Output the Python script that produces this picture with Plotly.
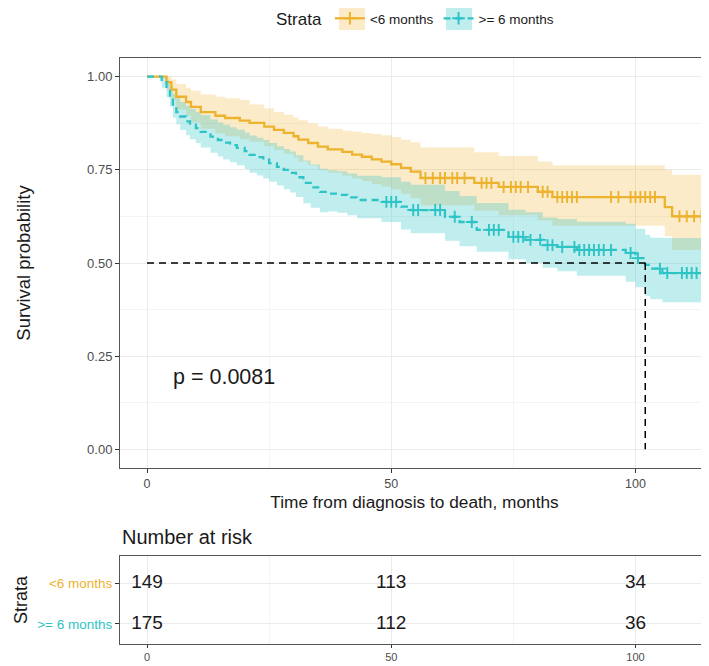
import numpy as np
import plotly.graph_objects as go

# ---------------- data ----------------
strata_labels = ["<6 months", ">= 6 months"]

# Kaplan-Meier estimate, "<6 months"
t_lt6 = [0, 4, 5, 6, 8, 9, 11, 14, 16, 19, 21, 24, 26, 28, 30, 31, 33, 35, 37, 40,
         42, 44, 46, 48, 50, 52, 54, 56, 67, 72, 80, 83, 106, 107.5]
s_lt6 = [1.0, 0.985, 0.965, 0.946, 0.932, 0.919, 0.905, 0.895, 0.889, 0.882,
         0.876, 0.866, 0.857, 0.849, 0.84, 0.831, 0.822, 0.812, 0.805, 0.798,
         0.791, 0.785, 0.778, 0.772, 0.765, 0.755, 0.745, 0.728, 0.715, 0.704,
         0.691, 0.677, 0.65, 0.625]
hi_lt6 = [1.0, 1.0, 0.992, 0.98, 0.97, 0.962, 0.952, 0.946, 0.942, 0.937,
          0.925, 0.915, 0.905, 0.898, 0.89, 0.883, 0.875, 0.866, 0.86, 0.855,
          0.852, 0.849, 0.846, 0.843, 0.838, 0.831, 0.824, 0.81, 0.797, 0.787,
          0.772, 0.762, 0.75, 0.737]
lo_lt6 = [1.0, 0.965, 0.938, 0.912, 0.895, 0.877, 0.86, 0.848, 0.84, 0.832,
          0.825, 0.813, 0.803, 0.793, 0.783, 0.772, 0.762, 0.75, 0.742, 0.735,
          0.727, 0.72, 0.712, 0.705, 0.697, 0.686, 0.674, 0.655, 0.64, 0.628,
          0.614, 0.6, 0.572, 0.535]
cens_lt6 = [57, 58.5, 60, 61, 62.5, 63.5, 65, 68.5, 69.5, 70.5, 73, 74.5, 75.5,
            76.5, 78, 81, 82, 84, 85, 86, 87, 88, 95, 96.5, 99, 100, 101, 102,
            103, 104, 109, 110.5, 112, 113.5]

# Kaplan-Meier estimate, ">= 6 months"
t_ge6 = [0, 3, 4, 4.7, 5.3, 6, 6.8, 8, 8.8, 10, 11, 13, 14.5, 15.6, 17, 18.4, 20,
         21, 22.5, 23.8, 25, 26.6, 28, 29.3, 30.5, 32, 33.5, 35.4, 37, 39, 41, 43,
         48, 52, 54, 61, 64, 67.5, 74, 77.5, 81, 84, 88, 98, 100, 102, 103, 105.5]
s_ge6 = [1.0, 0.985, 0.965, 0.945, 0.92, 0.905, 0.893, 0.88, 0.871, 0.862,
         0.852, 0.839, 0.83, 0.823, 0.816, 0.809, 0.80, 0.79, 0.784, 0.777,
         0.768, 0.758, 0.75, 0.742, 0.73, 0.715, 0.703, 0.691, 0.686, 0.683,
         0.676, 0.669, 0.664, 0.651, 0.642, 0.624, 0.61, 0.589, 0.57, 0.562,
         0.548, 0.543, 0.535, 0.527, 0.513, 0.495, 0.485, 0.473]
hi_ge6 = [1.0, 1.0, 0.99, 0.975, 0.955, 0.942, 0.932, 0.922, 0.914, 0.905,
          0.897, 0.885, 0.877, 0.871, 0.864, 0.858, 0.85, 0.842, 0.836, 0.83,
          0.822, 0.813, 0.806, 0.799, 0.789, 0.775, 0.764, 0.753, 0.749, 0.746,
          0.74, 0.734, 0.73, 0.718, 0.71, 0.693, 0.68, 0.661, 0.643, 0.636,
          0.622, 0.618, 0.611, 0.605, 0.592, 0.576, 0.568, 0.567]
lo_ge6 = [1.0, 0.97, 0.945, 0.92, 0.89, 0.872, 0.857, 0.843, 0.832, 0.822,
          0.81, 0.796, 0.786, 0.778, 0.77, 0.762, 0.752, 0.742, 0.735, 0.727,
          0.718, 0.708, 0.698, 0.689, 0.677, 0.66, 0.648, 0.636, 0.638, 0.635,
          0.628, 0.62, 0.61, 0.59, 0.58, 0.56, 0.545, 0.53, 0.51, 0.50,
          0.487, 0.478, 0.466, 0.45, 0.435, 0.412, 0.403, 0.395]
cens_ge6 = [49, 50, 51, 54.5, 55.5, 59, 60, 63, 66.5, 70, 71, 72, 75, 76, 77, 78.5,
            80.5, 82, 83, 85, 87.5, 88.5, 89.5, 90.5, 91.5, 92.5, 93.5, 95, 99,
            100.5, 105, 106.5, 109.5, 110.5, 111.5, 112.5, 114]

followup_end = 116
p_value_text = "p = 0.0081"

# number at risk table
risk_times = [0, 50, 100]
risk_lt6 = [149, 113, 34]
risk_ge6 = [175, 112, 36]

x_ticks = [0, 50, 100]
y_ticks = [0.0, 0.25, 0.5, 0.75, 1.0]

# ---------------- styling ----------------
FONT = "Liberation Sans, Arial, Helvetica, sans-serif"
col_lt6 = "#EDB32F"
col_ge6 = "#2EC4C6"
fill_lt6 = "rgba(240,182,60,0.28)"
fill_ge6 = "rgba(46,196,198,0.30)"
TICK_COL = "#4D4D4D"
GRID = "#EBEBEB"
GRID_MINOR = "#F4F4F4"
LINE_COL = "#555555"

# page body has an 8px margin: the figure is sized/positioned to compensate
W, H = 701, 658
ML, MT = 112, 10
PH = H - MT
PW = W - ML


def ydom(top_px, bottom_px):
    return [1 - (bottom_px - MT) / PH, 1 - (top_px - MT) / PH]


def px_x(p):
    return (p - ML) / PW


def px_y(p):
    return 1 - (p - MT) / PH


def step_at(times, vals, q):
    idx = np.searchsorted(np.asarray(times, float), np.asarray(q, float), side="right") - 1
    return np.asarray(vals)[idx]


fig = go.Figure()

groups = [
    dict(name=strata_labels[0], t=t_lt6, s=s_lt6, hi=hi_lt6, lo=lo_lt6, c=cens_lt6,
         col=col_lt6, fill=fill_lt6, dash="solid"),
    dict(name=strata_labels[1], t=t_ge6, s=s_ge6, hi=hi_ge6, lo=lo_ge6, c=cens_ge6,
         col=col_ge6, fill=fill_ge6, dash="7px,5px"),
]

# confidence bands
for g in groups:
    xs = list(g["t"]) + [followup_end]
    fig.add_trace(go.Scatter(x=xs, y=list(g["lo"]) + [g["lo"][-1]], mode="lines",
                             line=dict(width=0, shape="hv"), showlegend=False,
                             hoverinfo="skip", xaxis="x", yaxis="y"))
    fig.add_trace(go.Scatter(x=xs, y=list(g["hi"]) + [g["hi"][-1]], mode="lines",
                             line=dict(width=0, shape="hv"), fill="tonexty",
                             fillcolor=g["fill"], showlegend=False,
                             hoverinfo="skip", xaxis="x", yaxis="y"))

# survival curves + censor marks
for g in groups:
    xs = list(g["t"]) + [followup_end]
    fig.add_trace(go.Scatter(x=xs, y=list(g["s"]) + [g["s"][-1]], mode="lines",
                             line=dict(color=g["col"], width=2.3, shape="hv", dash=g["dash"]),
                             showlegend=False, xaxis="x", yaxis="y"))
    fig.add_trace(go.Scatter(x=g["c"], y=step_at(g["t"], g["s"], g["c"]), mode="markers",
                             marker=dict(symbol="cross-thin", size=8.5,
                                         line=dict(color=g["col"], width=1.9)),
                             showlegend=False, xaxis="x", yaxis="y"))

# legend entries
for g in groups:
    fig.add_trace(go.Scatter(x=[None], y=[None], mode="lines+markers",
                             name=g["name"].replace("<", "&lt;").replace(">", "&gt;"),
                             line=dict(color=g["col"], width=2.3, dash=g["dash"]),
                             marker=dict(symbol="cross-thin", size=9,
                                         line=dict(color=g["col"], width=2)),
                             xaxis="x", yaxis="y"))

# pale key backgrounds behind the legend symbols
for (x0, x1), fc in (((331, 357), fill_lt6), ((438, 464), fill_ge6)):
    fig.add_shape(type="rect", xref="paper", yref="paper",
                  x0=px_x(x0), x1=px_x(x1), y0=px_y(22), y1=px_y(0),
                  fillcolor=fc, line=dict(width=0), layer="below")

# median survival lines
s_arr = np.asarray(s_ge6)
median_t = float(np.asarray(t_ge6)[np.argmax(s_arr <= 0.5)])
fig.add_shape(type="line", x0=0, x1=median_t, y0=0.5, y1=0.5, xref="x", yref="y",
              line=dict(color="black", width=1.5, dash="7px,5px"))
fig.add_shape(type="line", x0=median_t, x1=median_t, y0=0.5, y1=0, xref="x", yref="y",
              line=dict(color="black", width=1.5, dash="7px,5px"))

# number at risk
for row, counts in ((2, risk_lt6), (1, risk_ge6)):
    fig.add_trace(go.Scatter(x=risk_times, y=[row] * len(risk_times), mode="text",
                             text=[str(v) for v in counts],
                             textfont=dict(size=19, color="#1A1A1A", family=FONT),
                             showlegend=False, xaxis="x2", yaxis="y2"))

xr = [-5.53, 115.05]
axis_common = dict(ticks="outside", ticklen=4, tickcolor="#333333", showline=True,
                   linecolor=LINE_COL, linewidth=1, zeroline=False, gridcolor=GRID,
                   showgrid=True, automargin=False)

fig.update_layout(
    width=W, height=H,
    margin=dict(l=ML, r=0, t=MT, b=0, autoexpand=False),
    paper_bgcolor="white", plot_bgcolor="white",
    font=dict(family=FONT, color="#1A1A1A"),
    xaxis=dict(domain=[0, 1], range=xr, tickvals=x_ticks, anchor="y", mirror=True,
               tickfont=dict(size=12.5, color=TICK_COL),
               minor=dict(dtick=25, showgrid=True, gridcolor=GRID_MINOR, ticks=""),
               title=dict(text="Time from diagnosis to death, months",
                          font=dict(size=17.3, color="#1A1A1A"), standoff=5),
               **axis_common),
    yaxis=dict(domain=ydom(50, 460), range=[-0.05, 1.05], anchor="x",
               tickvals=y_ticks, tickformat=".2f",
               tickfont=dict(size=13, color=TICK_COL),
               minor=dict(dtick=0.125, showgrid=True, gridcolor=GRID_MINOR, ticks=""),
               title=dict(text="Survival probability", font=dict(size=18.5, color="#1A1A1A"),
                          standoff=51),
               **axis_common),
    xaxis2=dict(domain=[0, 1], range=xr, tickvals=x_ticks, anchor="y2", mirror=True,
                tickfont=dict(size=11, color=TICK_COL),
                minor=dict(dtick=25, showgrid=True, gridcolor=GRID_MINOR, ticks=""),
                **dict(axis_common, ticklen=3)),
    yaxis2=dict(domain=ydom(548, 636), range=[0.51, 2.66], anchor="x2",
                tickvals=[2, 1],
                ticktext=[f'<span style="color:{col_lt6}">&lt;6 months</span>',
                          f'<span style="color:{col_ge6}">&gt;= 6 months</span>'],
                tickfont=dict(size=13.5),
                title=dict(text="Strata", font=dict(size=18, color="#1A1A1A"), standoff=4),
                **axis_common),
    legend=dict(orientation="h", x=px_x(266), xanchor="left",
                y=px_y(-5), yanchor="top",
                traceorder="normal",
                title=dict(text="Strata", font=dict(size=17, color="#1A1A1A")),
                font=dict(size=13.5, color="#1A1A1A"), itemwidth=30,
                bgcolor="rgba(0,0,0,0)"),
    showlegend=True,
)

fig.add_annotation(text=p_value_text, x=5, y=0.194, xref="x", yref="y",
                   xanchor="left", yanchor="middle", showarrow=False,
                   font=dict(size=21.5, color="#1A1A1A"))
fig.add_annotation(text="Number at risk", x=0, y=px_y(529), xref="paper",
                   yref="paper", xanchor="left", yanchor="middle", showarrow=False,
                   font=dict(size=20, color="#1A1A1A"))

fig.write_html("out.html")
